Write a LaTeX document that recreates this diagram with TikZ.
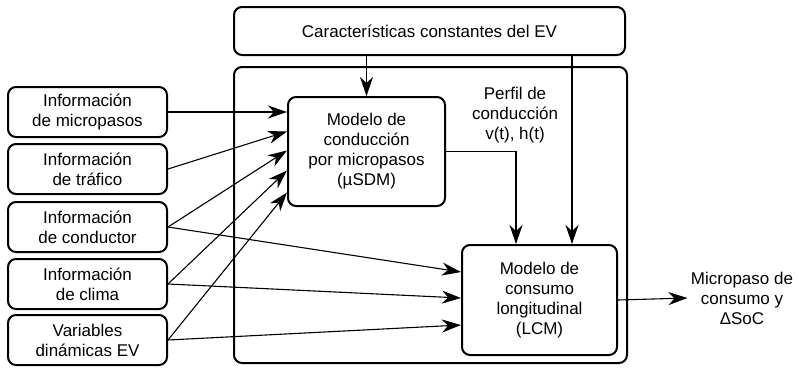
\documentclass[tikz,border=0pt]{standalone}
\usepackage{fontspec}
\setmainfont{Liberation Sans}
\usetikzlibrary{arrows.meta,positioning,calc}

\begin{document}
\begin{tikzpicture}[x=1pt,y=-1pt,font=\fontsize{17}{20}\selectfont,
  >={Stealth[length=19pt,width=13pt,inset=6pt]},
  blk/.style={draw,line width=2pt,rounded corners=8pt,align=center,inner sep=0pt},
  inbox/.style={blk,minimum width=159pt,minimum height=50pt},
  conn/.style={->,line width=1.1pt}]
\useasboundingbox (0,0) rectangle (797,368);
% system frame and blocks
\node[blk,minimum width=393pt,minimum height=296pt] (sys) at (430.5,215) {};
\node[blk,minimum width=391pt,minimum height=48pt] (cte) at (429.5,31) {Características constantes del EV};
\node[blk,minimum width=157pt,minimum height=109pt] (sdm) at (366.5,151.5) {Modelo de\\conducción\\por micropasos\\(µSDM)};
\node[blk,minimum width=155pt,minimum height=110pt] (lcm) at (539.5,300) {Modelo de\\consumo\\longitudinal\\(LCM)};
% inputs
\node[inbox] (imp) at (87.5,112) {Información\\de micropasos};
\node[inbox] (itr) at (87.5,169) {Información\\de tráfico};
\node[inbox] (icd) at (87.5,227) {Información\\de conductor};
\node[inbox] (icl) at (87.5,284) {Información\\de clima};
\node[inbox] (vdn) at (87.5,340) {Variables\\dinámicas EV};
\node[align=center] (perfil) at (515,115) {Perfil de\\conducción\\v(t), h(t)};
\node[align=center] (out) at (742,298) {Micropaso de\\consumo y\\ΔSoC};
% connectors
\draw[conn] (imp.east) -- (sdm.west |- imp.east);
\draw[conn] (itr.east) -- ([yshift=20pt]sdm.west);
\draw[conn] (icd.east) -- ([yshift=1pt]sdm.west);
\draw[conn] (icl.east) -- ([yshift=-19pt]sdm.west);
\draw[conn] (vdn.east) -- ([yshift=-41pt]sdm.west);
\draw[conn] (icd.east) -- ([yshift=28pt]lcm.west);
\draw[conn] (icl.east) -- ([yshift=2pt]lcm.west);
\draw[conn] (vdn.east) -- ([yshift=-25pt]lcm.west);
\coordinate (lcmin) at ([xshift=32.5pt]lcm.north);
\draw[conn] (cte.south -| sdm.north) -- (sdm.north);
\draw[conn] (cte.south -| lcmin) -- (lcmin);
\draw[conn] (sdm.east) -| ([xshift=-23.5pt]lcm.north);
\draw[conn] (lcm.east) -- (out.west);
\end{tikzpicture}
\end{document}
